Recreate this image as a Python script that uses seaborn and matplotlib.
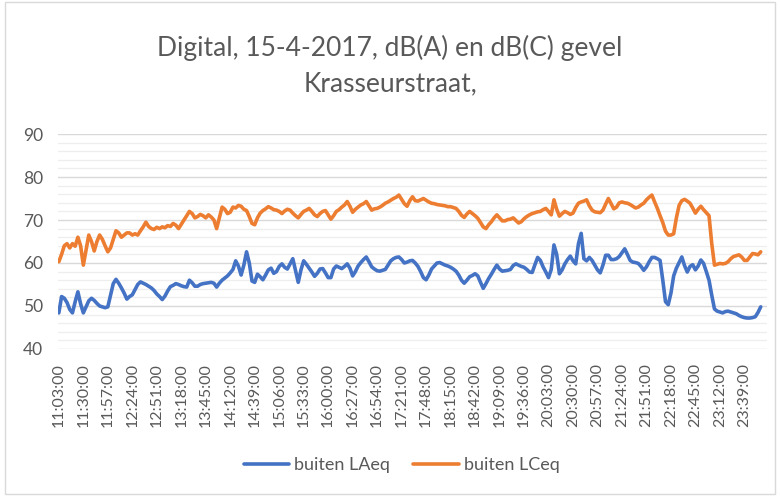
import numpy as np
import pandas as pd
import matplotlib
matplotlib.use('Agg')
import matplotlib.pyplot as plt
import seaborn as sns

# meetwaarden, elke 3 minuten vanaf 11:03
start_time = '2017-04-15 11:03:00'
step_minutes = 3

laeq = [48.4, 52.2, 51.8, 50.8, 49.2, 48.4, 51.0, 53.3, 50.5, 48.4,
        49.8, 51.2, 51.8, 51.3, 50.6, 50.0, 49.8, 49.6, 49.8, 52.5,
        55.2, 56.2, 55.3, 54.2, 53.0, 51.6, 52.2, 52.6, 53.8, 55.0,
        55.6, 55.3, 55.0, 54.6, 54.2, 53.6, 52.8, 52.2, 51.5, 52.3,
        53.5, 54.5, 54.8, 55.2, 55.0, 54.7, 54.5, 54.4, 56.0, 55.4,
        54.6, 54.6, 55.0, 55.2, 55.3, 55.4, 55.5, 55.3, 54.4, 55.3,
        56.0, 56.5, 57.0, 57.7, 58.5, 60.5, 59.3, 57.2, 59.5, 62.6,
        60.0, 55.8, 55.5, 57.4, 56.8, 56.1, 57.2, 58.4, 58.8, 57.6,
        58.0, 59.2, 59.8, 59.0, 58.6, 59.8, 61.0, 58.2, 55.5, 58.4,
        60.5, 59.7, 58.8, 57.9, 56.9, 57.6, 58.6, 58.7, 57.7, 56.6,
        56.6, 58.6, 59.3, 59.0, 58.7, 59.2, 59.8, 58.8, 57.0, 58.0,
        59.3, 60.1, 60.8, 61.4, 60.3, 59.1, 58.6, 58.2, 58.1, 58.3,
        58.5, 59.5, 60.5, 61.0, 61.3, 61.4, 60.8, 60.0, 60.2, 60.5,
        60.6, 60.0, 59.2, 58.0, 56.6, 56.1, 57.2, 58.6, 59.3, 60.0,
        60.1, 59.8, 59.5, 59.3, 59.0, 58.6, 58.1, 57.2, 56.0, 55.3,
        56.0, 56.8, 57.1, 57.5, 57.0, 55.5, 54.1, 55.2, 56.4, 57.4,
        58.5, 59.5, 58.6, 58.1, 58.2, 58.3, 58.5, 59.4, 59.8, 59.5,
        59.2, 59.0, 58.5, 57.9, 57.8, 59.6, 61.3, 60.6, 59.1, 57.9,
        56.6, 58.5, 64.2, 62.0, 57.5, 58.4, 59.8, 60.8, 61.6, 60.5,
        59.8, 64.5, 66.9, 61.0, 60.5, 61.3, 60.6, 59.5, 58.4, 57.7,
        59.5, 61.8, 61.8, 60.8, 60.8, 61.0, 61.5, 62.4, 63.3, 62.0,
        60.6, 60.2, 60.1, 59.9, 59.2, 58.3, 59.1, 60.3, 61.3, 61.3,
        61.0, 60.6, 56.0, 51.0, 50.3, 53.0, 57.0, 58.8, 60.1, 61.4,
        59.4, 57.9, 59.2, 59.6, 58.4, 59.3, 60.7, 59.9, 58.0, 56.0,
        52.5, 49.3, 48.8, 48.6, 48.4, 48.7, 48.8, 48.6, 48.4, 48.2,
        47.8, 47.5, 47.3, 47.2, 47.2, 47.3, 47.5, 48.5, 49.8]

lceq = [60.3, 62.0, 64.0, 64.5, 63.5, 64.5, 63.9, 66.0, 64.0, 59.5,
        63.0, 66.5, 65.0, 62.8, 65.0, 66.5, 65.5, 64.0, 62.6, 63.5,
        65.5, 67.5, 67.0, 66.0, 66.5, 67.0, 67.0, 66.5, 66.8, 66.5,
        67.5, 68.4, 69.5, 68.5, 68.0, 67.8, 68.3, 68.0, 68.4, 68.2,
        68.7, 68.5, 69.2, 68.8, 68.0, 69.0, 70.0, 71.0, 72.0, 71.5,
        70.5, 70.8, 71.3, 71.0, 70.5, 71.2, 70.7, 70.0, 68.0, 70.5,
        73.0, 72.5, 71.5, 71.8, 73.0, 72.8, 73.4, 73.2, 72.5, 72.2,
        70.8, 69.2, 68.9, 70.5, 71.6, 72.2, 72.6, 73.1, 72.8, 72.4,
        72.3, 72.0, 71.5, 72.1, 72.5, 72.3, 71.6, 71.0, 70.5, 71.3,
        72.0, 72.3, 72.7, 72.0, 71.2, 70.8, 71.5, 72.0, 72.2, 71.2,
        70.2, 71.0, 72.0, 72.4, 73.0, 73.5, 74.3, 73.2, 71.8, 72.5,
        73.0, 73.5, 73.8, 74.3, 73.3, 72.3, 72.6, 72.7, 73.0, 73.4,
        73.9, 74.2, 74.6, 75.0, 75.3, 75.8, 74.8, 73.8, 73.2, 74.5,
        75.4, 74.5, 74.4, 74.7, 75.0, 74.6, 74.2, 73.9, 73.8, 73.6,
        73.5, 73.4, 73.3, 73.1, 73.1, 72.9, 72.7, 72.0, 71.1, 70.6,
        71.4, 72.0, 71.5, 71.0, 70.4, 69.4, 68.4, 68.0, 68.9, 69.6,
        70.5, 71.2, 70.5, 69.8, 69.8, 70.1, 70.2, 70.5, 69.9, 69.3,
        69.6, 70.3, 70.8, 71.2, 71.5, 71.7, 71.9, 72.0, 72.4, 72.7,
        72.0, 71.2, 74.7, 72.5, 70.9, 71.5, 72.0, 71.7, 71.3, 71.6,
        72.9, 73.9, 74.2, 74.4, 74.7, 73.3, 72.3, 71.9, 71.8, 71.7,
        72.3, 73.7, 75.0, 73.8, 72.6, 73.0, 74.0, 74.2, 74.0, 73.9,
        73.6, 73.2, 72.8, 73.0, 73.5, 73.9, 74.7, 75.3, 75.8, 74.2,
        72.7, 71.0, 69.4, 67.4, 66.5, 66.5, 66.8, 70.5, 73.4, 74.5,
        74.8, 74.4, 73.9, 72.8, 71.6, 72.5, 73.2, 72.4, 71.7, 71.0,
        64.5, 59.5, 59.7, 59.9, 59.8, 59.9, 60.3, 61.0, 61.5, 61.7,
        61.9, 61.4, 60.6, 60.6, 61.4, 62.2, 62.1, 61.9, 62.6]

series_names = ['buiten LAeq', 'buiten LCeq']
series_colors = ['#4472C4', '#ED7D31']

times = pd.date_range(start_time, periods=len(laeq), freq=f'{step_minutes}min')
time_labels = times.strftime('%H:%M:%S')

df = pd.DataFrame({
    'idx': np.concatenate([np.arange(len(laeq)), np.arange(len(lceq))]),
    'dB': laeq + lceq,
    'reeks': [series_names[0]] * len(laeq) + [series_names[1]] * len(lceq),
})

sns.set_style('white')
plt.rcParams['font.family'] = ['Lato', 'DejaVu Sans']

fig = plt.figure(figsize=(7.8, 4.96), dpi=100)
ax = fig.add_axes([0.0744, 0.2964, 0.9089, 0.4334])

sns.lineplot(data=df, x='idx', y='dB', hue='reeks', palette=series_colors,
             linewidth=2.6, ax=ax, legend=True)

ax.set_xlim(-0.3, 260.3)
ax.set_ylim(40, 90)
ax.set_yticks(range(40, 91, 10))
ax.set_yticks(range(40, 91, 2), minor=True)
ax.grid(axis='y', which='major', color='#d9d9d9', linewidth=1.0, zorder=0)
ax.grid(axis='y', which='minor', color='#eeeeee', linewidth=0.9, zorder=0)
ax.set_axisbelow(True)

tick_pos = np.arange(0, len(laeq), 9)
ax.set_xticks(tick_pos)
ax.set_xticklabels(time_labels[tick_pos], rotation=90, fontsize=11.5, color='#595959')
ax.tick_params(axis='y', which='both', labelsize=12.5, colors='#595959', length=0, pad=11)
ax.tick_params(axis='x', length=0, pad=10)
for s in ax.spines.values():
    s.set_visible(False)
ax.set_xlabel('')
ax.set_ylabel('')

fig.suptitle('Digital, 15-4-2017, dB(A) en dB(C) gevel\nKrasseurstraat,',
             y=0.93, va='top', fontsize=19, color='#595959', linespacing=1.5)

handles, labels = ax.get_legend_handles_labels()
ax.legend(handles, labels, loc='center', bbox_to_anchor=(0.515, 0.062),
          bbox_transform=fig.transFigure, ncol=2, frameon=False,
          fontsize=13, handlelength=2.5, handletextpad=0.3, columnspacing=1.3,
          labelcolor='#595959')

fig.patches.append(plt.Rectangle((0.006, 0.004), 0.988, 0.992, transform=fig.transFigure,
                                 fill=False, edgecolor='#d9d9d9', linewidth=1))

plt.savefig('out.png', dpi=100)
